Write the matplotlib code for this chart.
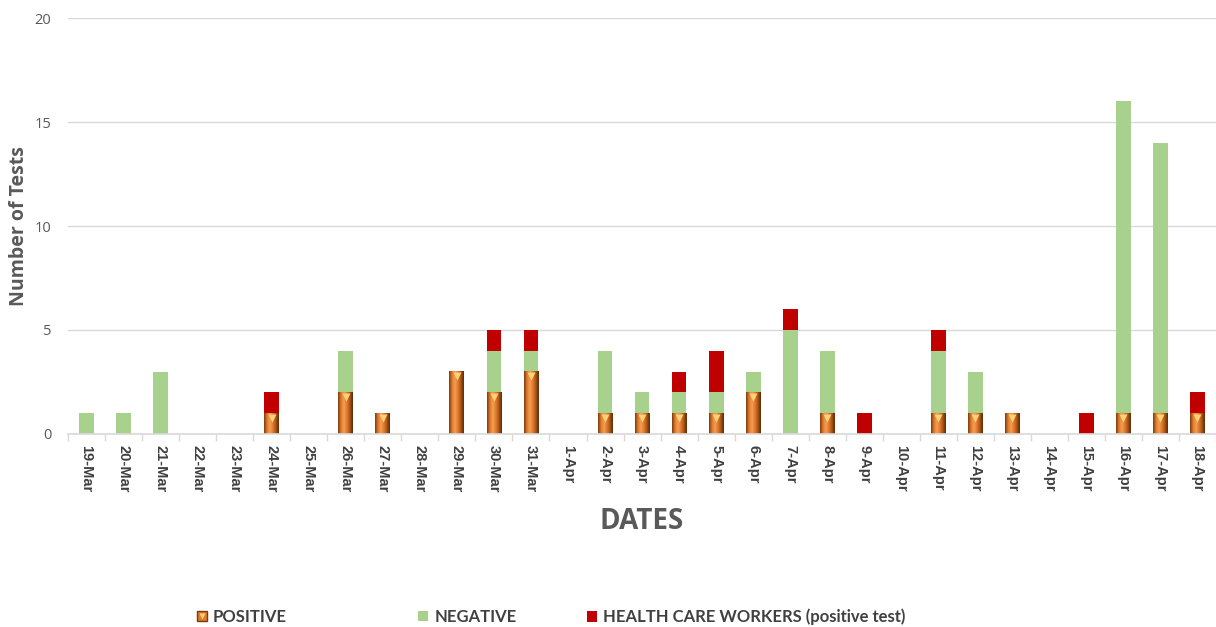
import numpy as np
import matplotlib.pyplot as plt
import matplotlib.transforms as mtransforms
from matplotlib.colors import LinearSegmentedColormap
from matplotlib.patches import Patch
from matplotlib.lines import Line2D

# даты и значения
dates = ['19-Mar', '20-Mar', '21-Mar', '22-Mar', '23-Mar', '24-Mar', '25-Mar', '26-Mar',
         '27-Mar', '28-Mar', '29-Mar', '30-Mar', '31-Mar', '1-Apr', '2-Apr', '3-Apr',
         '4-Apr', '5-Apr', '6-Apr', '7-Apr', '8-Apr', '9-Apr', '10-Apr', '11-Apr',
         '12-Apr', '13-Apr', '14-Apr', '15-Apr', '16-Apr', '17-Apr', '18-Apr']
positive = [0, 0, 0, 0, 0, 1, 0, 2, 1, 0, 3, 2, 3, 0, 1, 1, 1, 1, 2, 0, 1, 0, 0, 1, 1, 1, 0, 0, 1, 1, 1]
negative = [1, 1, 3, 0, 0, 0, 0, 2, 0, 0, 0, 2, 1, 0, 3, 1, 1, 1, 1, 5, 3, 0, 0, 3, 2, 0, 0, 0, 15, 13, 0]
health_workers = [0, 0, 0, 0, 0, 1, 0, 0, 0, 0, 0, 1, 1, 0, 0, 0, 1, 2, 0, 1, 0, 1, 0, 1, 0, 0, 0, 1, 0, 0, 1]
legend_labels = ['POSITIVE', 'NEGATIVE', 'HEALTH CARE WORKERS (positive test)']

text_color = '#404040'
label_color = '#595959'
green = '#a9d18e'
red = '#c00000'
orange = '#e07a2c'
orange_cmap = LinearSegmentedColormap.from_list(
    'orange_bar', ['#7a3a0c', '#e07a2c', '#f5a055', '#e07a2c', '#a85418', '#5a2a06'])

x = np.arange(len(dates))
pos = np.array(positive)
neg = np.array(negative)
hcw = np.array(health_workers)
width = 0.4

plt.rcParams['font.family'] = ['Open Sans', 'DejaVu Sans']
fig = plt.figure(figsize=(12.16, 6.27), dpi=100)
ax = fig.add_axes([0.056, 0.308, 0.944, 0.663])

# положительные - с градиентом
bars = ax.bar(x, pos, width, color=orange, edgecolor='none', zorder=2)
grad = np.linspace(0, 1, 64).reshape(1, -1)
for b, v in zip(bars, pos):
    if v == 0:
        continue
    ax.imshow(grad, cmap=orange_cmap, aspect='auto', zorder=2.5,
              extent=[b.get_x(), b.get_x() + b.get_width(), 0, v],
              clip_path=b, clip_on=True, interpolation='bicubic')

ax.bar(x, neg, width, bottom=pos, color=green, zorder=2)
ax.bar(x, hcw, width, bottom=pos + neg, color=red, zorder=2)

# жёлтые треугольники сверху оранжевых столбцов
offset = mtransforms.offset_copy(ax.transData, fig=fig, x=0, y=-3.5, units='points')
mask = pos > 0
ax.plot(x[mask], pos[mask], linestyle='none', marker='v', markersize=6,
        color='#ffd27a', markeredgecolor='none', transform=offset, zorder=3)

ax.set_xlim(-0.5, len(dates) - 0.5)
ax.set_ylim(0, 20)
ax.set_yticks([0, 5, 10, 15, 20])
ax.yaxis.grid(True, color='#d9d9d9', linewidth=1)
ax.set_axisbelow(True)
for s in ['top', 'right', 'left']:
    ax.spines[s].set_visible(False)
ax.spines['bottom'].set_color('#d9d9d9')
ax.spines['bottom'].set_linewidth(1.2)

ax.set_xticks(x)
ax.set_xticklabels(dates, rotation=270, fontsize=10.5, fontweight='bold', color=text_color,
                   family='Liberation Sans')
ax.set_xticks(np.arange(-0.5, len(dates), 1), minor=True)
ax.tick_params(axis='x', which='major', length=0, pad=8)
ax.tick_params(axis='x', which='minor', length=5, color='#d9d9d9', width=1)
ax.tick_params(axis='y', length=0, labelsize=10.5, labelcolor=label_color, pad=12)

ax.set_ylabel('Number of Tests', fontsize=14, fontweight='bold', color=label_color)
ax.yaxis.set_label_coords(-0.034, 0.5)
ax.set_xlabel('DATES', fontsize=20, fontweight='bold', color=label_color)
ax.xaxis.set_label_coords(0.5, -0.175)

# легенда - три отдельных элемента
handles = [(Patch(facecolor=orange, edgecolor='#7a3a0c'),
            Line2D([], [], linestyle='none', marker='v', markersize=4,
                   color='#ffd27a', markeredgecolor='none')),
           Patch(facecolor=green),
           Patch(facecolor=red)]
legend_x = [0.162, 0.344, 0.483]
for h, lab, lx in zip(handles, legend_labels, legend_x):
    fig.legend([h], [lab], loc='center left', bbox_to_anchor=(lx, 0.016),
               frameon=False, borderpad=0, borderaxespad=0,
               prop={'family': 'Lato', 'weight': 'bold', 'size': 12},
               handlelength=0.6, handleheight=0.6, handletextpad=0.35,
               labelcolor=text_color)

plt.savefig('out.png', dpi=100)
